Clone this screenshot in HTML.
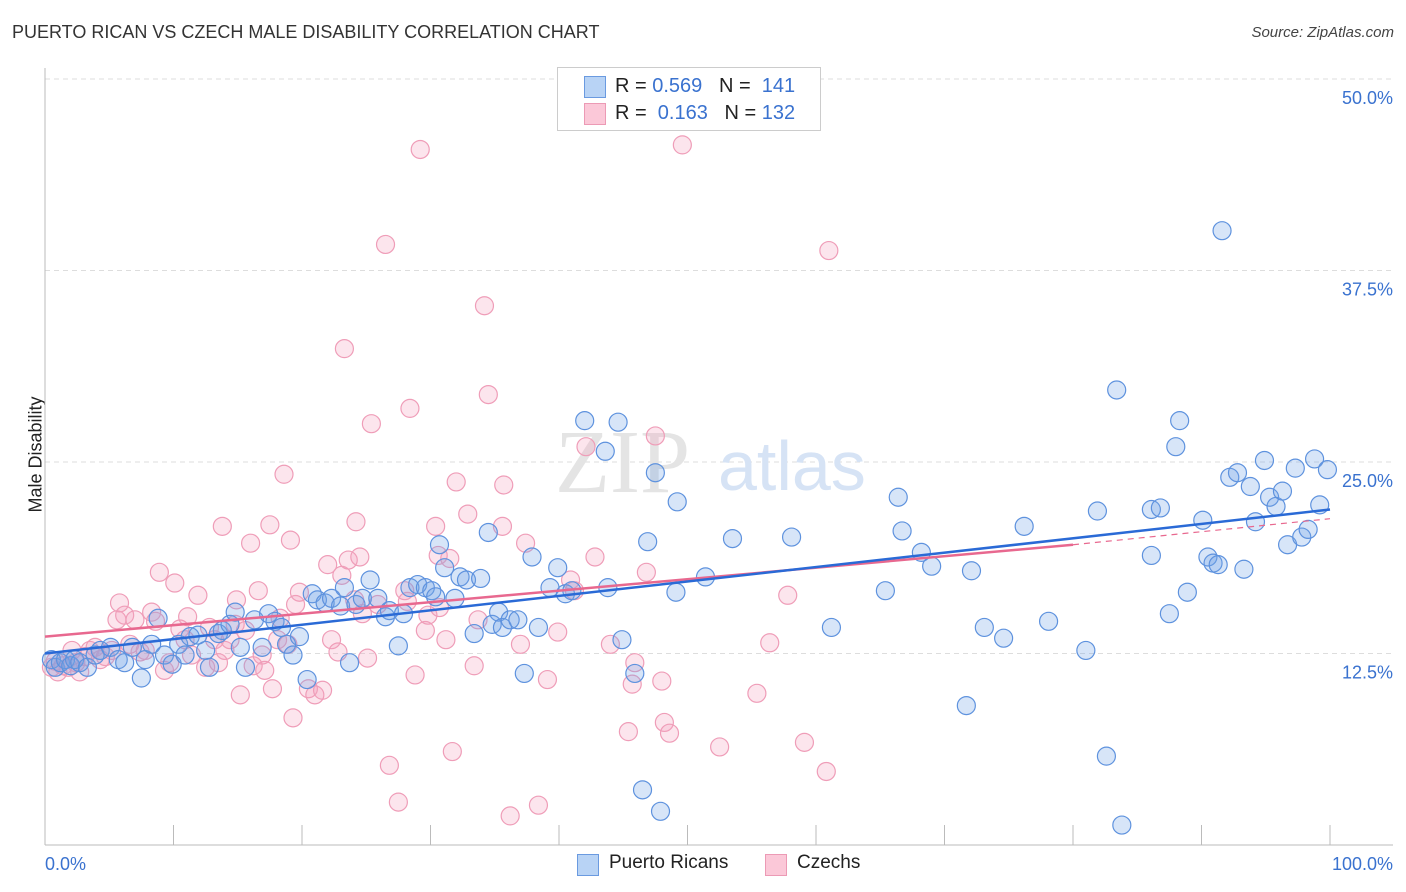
<!DOCTYPE html>
<html><head><meta charset="utf-8">
<style>
body{margin:0;background:#fff;font-family:"Liberation Sans",sans-serif;}
#wrap{position:relative;width:1406px;height:892px;overflow:hidden;}
.t{position:absolute;white-space:nowrap;}
</style></head>
<body>
<div id="wrap">
<div class="t" style="left:12px;top:22px;font-size:18px;color:#333;">PUERTO RICAN VS CZECH MALE DISABILITY CORRELATION CHART</div>
<div class="t" style="right:12px;top:24px;font-size:15px;color:#444;font-style:italic;">Source: ZipAtlas.com</div>
<div class="t" style="left:-22px;top:444px;font-size:18px;color:#222;transform:rotate(-90deg);">Male Disability</div>
<svg id="svg" width="1406" height="892" style="position:absolute;left:0;top:0"></svg>
<div style="position:absolute;left:557px;top:67px;width:262px;height:62px;border:1px solid #ccc;background:#fff;font-size:20px;">
 <div style="position:absolute;left:26px;top:8px;width:20px;height:20px;background:#b8d3f5;border:1px solid #6a9ae0;"></div>
 <div class="t" style="left:57px;top:7px;color:#222;">R = <span style="color:#3a72cf">0.569</span>&nbsp;&nbsp;&nbsp;N = &nbsp;<span style="color:#3a72cf">141</span></div>
 <div style="position:absolute;left:26px;top:35px;width:20px;height:20px;background:#fbc8d8;border:1px solid #ec9ab5;"></div>
 <div class="t" style="left:57px;top:34px;color:#222;">R = &nbsp;<span style="color:#3a72cf">0.163</span>&nbsp;&nbsp;&nbsp;N = <span style="color:#3a72cf">132</span></div>
</div>
<div style="position:absolute;left:577px;top:852px;font-size:19px;color:#222;">
 <div style="position:absolute;left:0;top:2px;width:20px;height:20px;background:#b8d3f5;border:1px solid #6a9ae0;"></div>
 <div class="t" style="left:32px;top:0;">Puerto Ricans</div>
 <div style="position:absolute;left:188px;top:2px;width:20px;height:20px;background:#fbc8d8;border:1px solid #ec9ab5;"></div>
 <div class="t" style="left:220px;top:0;">Czechs</div>
</div>
</div>
<script>
const yTicks=[12.5,25,37.5,50];
const yTickLabels=["12.5%","25.0%","37.5%","50.0%"];
const xTickLabels=["0.0%","100.0%"];
const blueX=[0.5,0.8,1.2,1.6,2.0,2.3,2.7,3.3,3.9,4.3,5.1,5.7,6.2,6.8,7.5,7.8,8.3,8.8,9.3,9.9,10.4,10.9,11.3,11.9,12.5,12.8,13.5,13.8,14.4,14.8,15.2,15.6,16.3,16.9,17.4,17.9,18.4,18.8,19.3,19.8,20.4,20.8,21.2,21.8,22.3,23.0,23.3,23.7,24.2,24.7,25.3,25.9,26.5,26.8,27.5,27.9,28.4,29.0,29.6,30.1,30.4,30.7,31.1,31.9,32.3,32.8,33.4,33.9,34.5,34.8,35.3,35.6,36.2,36.8,37.3,37.9,38.4,39.3,39.9,40.5,41.0,42.0,43.6,43.8,44.6,44.9,45.9,46.5,46.9,47.5,47.9,49.2,49.1,51.4,53.5,58.1,61.2,65.4,66.4,66.7,68.2,69.0,71.7,72.1,73.1,74.6,76.2,78.1,81.0,81.9,82.6,83.4,83.8,86.1,86.1,86.8,87.5,88.0,88.3,88.9,90.1,90.5,90.9,91.3,91.6,92.2,92.8,93.3,93.8,94.2,94.9,95.3,95.8,96.3,96.7,97.3,97.8,98.3,98.8,99.2,99.8];
const blueY=[12.1,11.6,11.9,12.1,11.7,12.1,11.9,11.6,12.4,12.7,12.9,12.1,11.9,12.9,10.9,12.1,13.1,14.8,12.4,11.8,13.1,12.4,13.6,13.7,12.7,11.6,13.8,14.0,14.4,15.2,12.9,11.6,14.7,12.9,15.1,14.6,14.2,13.1,12.4,13.6,10.8,16.4,16.0,15.8,16.1,15.6,16.8,11.9,15.7,16.1,17.3,16.1,14.9,15.3,13.0,15.1,16.8,17.0,16.8,16.6,16.2,19.6,18.1,16.1,17.5,17.3,13.8,17.4,20.4,14.4,15.2,14.2,14.7,14.7,11.2,18.8,14.2,16.8,18.1,16.4,16.6,27.7,25.7,16.8,27.6,13.4,11.2,3.6,19.8,24.3,2.2,22.4,16.5,17.5,20.0,20.1,14.2,16.6,22.7,20.5,19.1,18.2,9.1,17.9,14.2,13.5,20.8,14.6,12.7,21.8,5.8,29.7,1.3,21.9,18.9,22.0,15.1,26.0,27.7,16.5,21.2,18.8,18.4,18.3,40.1,24.0,24.3,18.0,23.4,21.1,25.1,22.7,22.1,23.1,19.6,24.6,20.1,20.6,25.2,22.2,24.5];
const pinkX=[0.5,0.8,1.0,1.4,1.8,2.1,2.4,2.7,3.1,3.5,3.9,4.3,4.7,5.2,5.6,5.8,6.2,6.6,7.0,7.4,7.8,8.3,8.6,8.9,9.3,9.7,10.1,10.5,10.9,11.1,11.4,11.9,12.5,12.8,13.2,13.5,13.8,14.0,14.4,14.8,14.9,15.2,15.6,16.0,16.2,16.6,16.9,17.1,17.5,17.7,18.1,18.3,18.6,18.9,19.1,19.3,19.5,19.8,20.5,21.0,21.6,22.0,22.3,22.8,23.1,23.3,23.6,24.1,24.2,24.5,24.7,25.1,25.4,25.9,26.5,26.8,27.5,28.0,28.2,28.4,28.8,29.2,29.6,29.8,30.4,30.6,30.7,31.2,31.5,31.7,32.0,32.9,33.4,33.7,34.2,34.5,35.6,35.7,36.2,37.0,37.4,38.4,39.1,39.9,40.9,41.2,42.1,42.8,44.0,45.4,45.7,45.9,46.8,47.5,48.0,48.2,48.6,49.6,52.5,55.4,56.4,57.8,59.1,60.8,61.0];
const pinkY=[11.6,12.0,11.3,11.7,11.6,12.7,11.9,11.3,12.3,12.7,12.9,12.1,12.3,12.7,14.7,15.8,15.0,13.1,14.7,12.6,12.7,15.2,14.6,17.8,11.4,11.9,17.1,14.1,13.4,14.9,12.4,16.3,11.6,14.2,13.4,11.9,20.8,12.7,13.4,14.4,16.0,9.8,14.0,19.7,11.7,16.6,12.4,11.4,20.9,10.2,13.4,14.8,24.2,13.1,19.9,8.3,15.7,16.5,10.2,9.8,10.1,18.3,13.4,12.6,17.6,32.4,18.6,16.0,21.1,18.8,15.1,12.2,27.5,15.7,39.2,5.2,2.8,16.6,15.9,28.5,11.1,45.4,14.0,15.0,20.8,18.9,15.5,13.4,18.7,6.1,23.7,21.6,11.7,14.7,35.2,29.4,20.8,23.5,1.9,13.1,19.7,2.6,10.8,13.9,17.3,16.6,26.0,18.8,13.1,7.4,10.5,11.9,17.8,26.7,10.7,8.0,7.3,45.7,6.4,9.9,13.2,16.3,6.7,4.8,38.8];
const blueTrend=[[0,12.5],[100,21.9]];
const pinkTrendSolid=[[0,13.6],[80,19.6]];
const pinkTrendDash=[[80,19.6],[100,21.3]];

const X0=45,X1=1330,Y0=845,YTOP=79;
function sx(v){return X0+(X1-X0)*v/100;}
function sy(v){return Y0-(Y0-YTOP)*v/50;}
const NS="http://www.w3.org/2000/svg";
const svg=document.getElementById('svg');
function mk(tag,attrs,name){const e=document.createElementNS(NS,tag);for(const k in attrs)e.setAttribute(k,attrs[k]);


svg.appendChild(e);return e;}
yTicks.forEach((v,i)=>{
 mk('line',{x1:X0,x2:1393,y1:sy(v),y2:sy(v),stroke:'#ddd','stroke-dasharray':'5,4'},'y-gridline');
 const t=mk('text',{x:1393,y:sy(v)+25,'text-anchor':'end','font-size':18,fill:'#3a72cf','font-family':'Liberation Sans'},'y-tick-label');
 t.textContent=yTickLabels[i];
});
mk('line',{x1:X0,x2:X0,y1:68,y2:Y0,stroke:'#bbb'},'y-axis');
mk('line',{x1:X0,x2:1393,y1:Y0,y2:Y0,stroke:'#bbb'},'x-axis');
for(let i=0;i<=10;i++){mk('line',{x1:sx(i*10),x2:sx(i*10),y1:Y0-20,y2:Y0,stroke:'#bbb'},'x-tick');}
let t1=mk('text',{x:45,y:870,'font-size':18,fill:'#3a72cf','font-family':'Liberation Sans'},'x-tick-label');t1.textContent=xTickLabels[0];
let t2=mk('text',{x:1393,y:870,'text-anchor':'end','font-size':18,fill:'#3a72cf','font-family':'Liberation Sans'},'x-tick-label');t2.textContent=xTickLabels[1];
let w1=mk('text',{x:555,y:492,'font-size':90,fill:'#e4e4e4','font-family':'Liberation Serif'},'watermark-zip');w1.textContent='ZIP';
let w2=mk('text',{x:718,y:490,'font-size':70,fill:'#d6e3f5','font-family':'Liberation Sans'},'watermark-atlas');w2.textContent='atlas';
pinkX.forEach((x,i)=>{mk('circle',{cx:sx(x),cy:sy(pinkY[i]),r:9,fill:'rgba(245,160,190,0.28)',stroke:'#ef9db8','stroke-width':1.2},'czech-point');});
blueX.forEach((x,i)=>{mk('circle',{cx:sx(x),cy:sy(blueY[i]),r:9,fill:'rgba(110,160,230,0.28)',stroke:'#5e92de','stroke-width':1.2},'puerto-rican-point');});
mk('line',{x1:sx(pinkTrendSolid[0][0]),y1:sy(pinkTrendSolid[0][1]),x2:sx(pinkTrendSolid[1][0]),y2:sy(pinkTrendSolid[1][1]),stroke:'#e8688f','stroke-width':2.5},'czech-trend-line');
mk('line',{x1:sx(pinkTrendDash[0][0]),y1:sy(pinkTrendDash[0][1]),x2:sx(pinkTrendDash[1][0]),y2:sy(pinkTrendDash[1][1]),stroke:'#e8688f','stroke-width':1.2,'stroke-dasharray':'6,5'},'czech-trend-extension');
mk('line',{x1:sx(blueTrend[0][0]),y1:sy(blueTrend[0][1]),x2:sx(blueTrend[1][0]),y2:sy(blueTrend[1][1]),stroke:'#2a6ad6','stroke-width':2.5},'puerto-rican-trend-line');
</script>
</body></html>
